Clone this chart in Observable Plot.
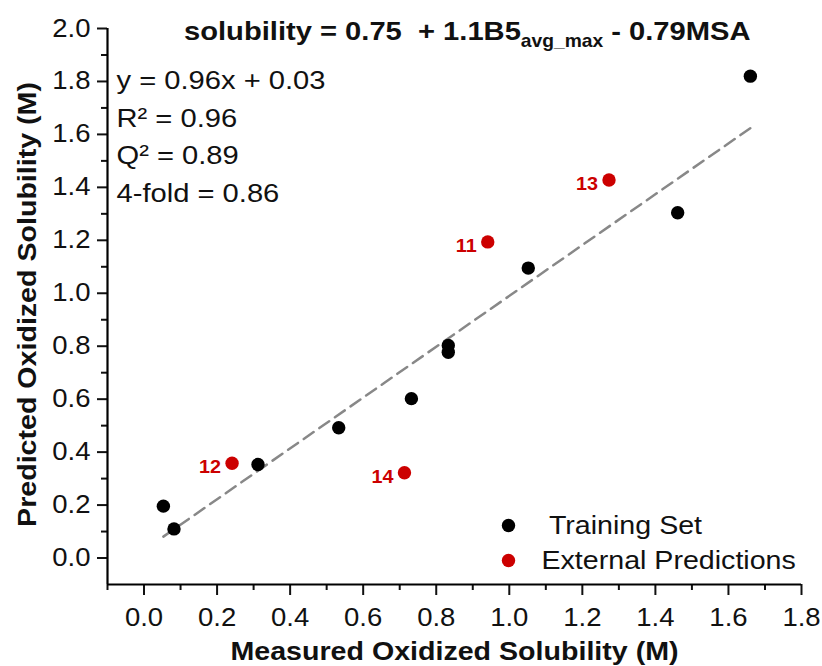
<!DOCTYPE html>
<html>
<head>
<meta charset="utf-8">
<script src="https://cdn.jsdelivr.net/npm/d3@7"></script>
<script src="https://cdn.jsdelivr.net/npm/@observablehq/plot@0.6"></script>
<style>
  body { margin: 0; background: #fff; }
  svg text { white-space: pre; }
</style>
</head>
<body>
<div id="chart"></div>
<script>
// Training set: measured vs predicted oxidized solubility (M)
const trainX = [0.053, 0.082, 0.312, 0.533, 0.732, 0.833, 0.833, 1.052, 1.461, 1.660];
const trainY = [0.196, 0.110, 0.353, 0.492, 0.602, 0.803, 0.777, 1.095, 1.304, 1.820];

// External predictions, labelled by compound number
const extIds = ["11", "12", "13", "14"];
const extX = [0.941, 0.241, 1.273, 0.713];
const extY = [1.194, 0.358, 1.428, 0.322];

// Fit of predicted vs measured
const fitSlope = 0.96;
const fitIntercept = 0.03;
const statsLines = ["y = 0.96x + 0.03", "R² = 0.96", "Q² = 0.89", "4-fold = 0.86"];

// Model equation shown as the title (main, subscript, tail)
const titleParts = ["solubility = 0.75  + 1.1B5", "avg_max", " - 0.79MSA"];

// Axes
const xMajor = [0, 0.2, 0.4, 0.6, 0.8, 1.0, 1.2, 1.4, 1.6, 1.8];
const xMinor = [-0.1, 0.1, 0.3, 0.5, 0.7, 0.9, 1.1, 1.3, 1.5, 1.7];
const yMajor = [0, 0.2, 0.4, 0.6, 0.8, 1.0, 1.2, 1.4, 1.6, 1.8, 2.0];
const yMinor = [0.1, 0.3, 0.5, 0.7, 0.9, 1.1, 1.3, 1.5, 1.7, 1.9];
const xTitle = "Measured Oxidized Solubility (M)";
const yTitle = "Predicted Oxidized Solubility (M)";
const legendLabels = [" Training Set", "External Predictions"];

const RED = "#cc0000";
const FONT = "'Liberation Sans', Arial, Helvetica, sans-serif";

const training = trainX.map((x, i) => ({x, y: trainY[i]}));
const external = extIds.map((id, i) => ({id, x: extX[i], y: extY[i]}));
const fitLine = d3.extent(trainX).map(x => ({x, y: fitSlope * x + fitIntercept}));

const plot = Plot.plot({
  width: 822,
  height: 666,
  marginLeft: 107,
  marginRight: 21,
  marginTop: 28,
  marginBottom: 82,
  style: {fontFamily: FONT, background: "#fff", color: "#111"},
  x: {domain: [-0.1, 1.8], label: null},
  y: {domain: [-0.1, 2.0], label: null},
  marks: [
    // tick marks and labels
    Plot.axisX({ticks: xMajor, tickSize: 11, tickPadding: 13, strokeWidth: 2,
      tickFormat: d3.format(".1f"), fontSize: 25, label: null}),
    Plot.axisX({ticks: xMinor, tickSize: 6, strokeWidth: 2, fill: "none", label: null}),
    Plot.axisY({ticks: yMajor, tickSize: 10, tickPadding: 7, strokeWidth: 2,
      tickFormat: d3.format(".1f"), fontSize: 25, label: null}),
    Plot.axisY({ticks: yMinor, tickSize: 6, strokeWidth: 2, fill: "none", label: null}),
    // axis lines along the lower domain bounds
    Plot.ruleX([-0.1], {stroke: "#000", strokeWidth: 2.2}),
    Plot.ruleY([-0.1], {stroke: "#000", strokeWidth: 2.2}),
    // fit line
    Plot.line(fitLine, {x: "x", y: "y", stroke: "#888", strokeWidth: 2.5, strokeDasharray: "12,7"}),
    // points
    Plot.dot(training, {x: "x", y: "y", r: 6.7, fill: "#000"}),
    Plot.dot(external, {x: "x", y: "y", r: 6.7, fill: RED}),
    Plot.text(external, {x: "x", y: "y", text: "id", textAnchor: "end", dx: -11, dy: 4,
      fill: RED, fontWeight: "bold", fontSize: 18}),
    // fit statistics
    Plot.text([statsLines.join("\n")], {frameAnchor: "top-left", dx: 9, dy: 34, lineAnchor: "top",
      lineHeight: 1.42, textAnchor: "start", fontSize: 26.5, fill: "#111"}),
    // legend
    Plot.dot([legendLabels[0]], {frameAnchor: "bottom-left", dx: 401, dy: -59, r: 6.7, fill: "#000"}),
    Plot.dot([legendLabels[1]], {frameAnchor: "bottom-left", dx: 401, dy: -24, r: 6.7, fill: RED}),
    Plot.text([legendLabels[0]], {frameAnchor: "bottom-left", dx: 434, dy: -59, textAnchor: "start",
      lineAnchor: "middle", fontSize: 26, fill: "#111"}),
    Plot.text([legendLabels[1]], {frameAnchor: "bottom-left", dx: 434, dy: -24, textAnchor: "start",
      lineAnchor: "middle", fontSize: 26, fill: "#111"}),
    // axis titles
    Plot.text([xTitle], {frameAnchor: "bottom", dy: 67, lineAnchor: "middle", textAnchor: "middle",
      fontSize: 26, fontWeight: "bold", fill: "#111"}),
    Plot.text([yTitle], {frameAnchor: "left", dx: -80, dy: -2, rotate: -90, lineAnchor: "middle",
      textAnchor: "middle", fontSize: 26, fontWeight: "bold", fill: "#111"})
  ]
});

const svg = d3.select(plot);

// title with subscript
const title = svg.append("text")
  .attr("transform", "translate(184,40)")
  .attr("text-anchor", "start")
  .attr("font-weight", "bold")
  .attr("font-size", 26.5)
  .attr("fill", "#111");
title.append("tspan").text(titleParts[0]);
title.append("tspan").attr("dy", 6.5).attr("font-size", 17.5).text(titleParts[1]);
title.append("tspan").attr("dy", -6.5).text(titleParts[2]);

// widen glyphs slightly around each label's anchor
svg.selectAll("text").each(function() {
  const t = this.getAttribute("transform");
  if (t) this.setAttribute("transform", t + " scale(1.1,1)");
});

document.getElementById("chart").appendChild(plot);
</script>
</body>
</html>
